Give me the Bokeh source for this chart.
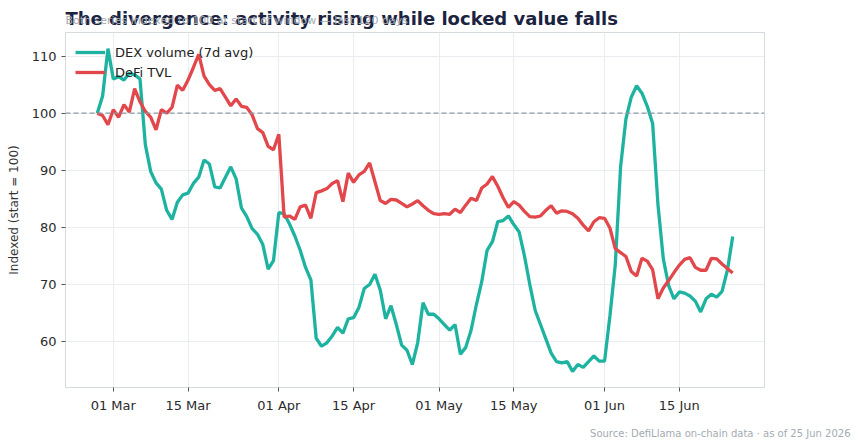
import pandas as pd
from bokeh.plotting import figure
from bokeh.models import (Range1d, FixedTicker, DatetimeTickFormatter, Span, Label,
                          Legend, LegendItem, ColumnDataSource)
from bokeh.embed import file_html
from bokeh.resources import INLINE

start_date = "2026-02-26"

dex_volume = [
    100.0, 103.0, 111.3, 106.0, 106.4, 105.8, 107.0, 106.7, 106.0, 94.5,
    89.8, 87.8, 86.7, 83.0, 81.4, 84.4, 85.7, 86.0, 87.7, 88.8,
    91.8, 91.1, 87.1, 86.9, 88.8, 90.6, 88.5, 83.4, 81.9, 79.8,
    78.8, 77.0, 72.7, 74.2, 82.6, 82.4, 80.6, 78.5, 76.0, 73.0,
    70.8, 60.6, 59.2, 59.8, 61.0, 62.5, 61.5, 64.0, 64.2, 66.0,
    69.3, 70.0, 71.8, 69.0, 64.0, 66.3, 63.0, 59.4, 58.5, 56.0,
    59.8, 66.8, 64.8, 64.8, 64.0, 63.0, 62.0, 63.0, 57.8, 59.0,
    62.0, 66.5, 70.5, 76.0, 77.5, 81.0, 81.2, 82.0, 80.5, 79.2,
    75.0, 70.0, 65.5, 63.0, 60.5, 58.0, 56.5, 56.3, 56.5, 54.8,
    56.0, 55.5, 56.5, 57.5, 56.6, 56.6, 64.5, 73.4, 90.6, 99.0,
    102.8, 104.8, 103.5, 101.2, 98.2, 84.0, 74.5, 69.8, 67.5, 68.7,
    68.5, 68.0, 67.1, 65.2, 67.5, 68.3, 67.8, 68.8, 72.5, 78.4,
]

defi_tvl = [
    100.0, 99.6, 98.0, 100.6, 99.3, 101.5, 100.2, 104.3, 102.0, 100.3,
    99.3, 97.1, 100.6, 100.0, 101.0, 104.9, 104.0, 105.8, 108.0, 110.3,
    106.5, 105.0, 104.0, 104.3, 102.8, 101.3, 102.5, 101.2, 101.0, 99.7,
    97.3, 96.6, 94.2, 93.6, 96.3, 81.8, 82.0, 81.4, 83.6, 83.9,
    81.6, 86.1, 86.4, 86.8, 87.7, 88.2, 84.5, 89.5, 87.9, 89.2,
    89.8, 91.3, 88.0, 84.7, 84.2, 84.9, 84.8, 84.2, 83.6, 84.1,
    84.7, 83.8, 83.0, 82.4, 82.3, 82.4, 82.3, 83.2, 82.6, 83.9,
    85.1, 84.7, 86.9, 87.6, 88.9, 87.2, 85.2, 83.5, 84.5, 83.9,
    82.8, 81.9, 81.8, 82.0, 83.0, 83.8, 82.5, 82.9, 82.8, 82.4,
    81.6, 80.4, 79.4, 81.0, 81.7, 81.6, 79.9, 76.3, 75.6, 74.9,
    72.3, 71.5, 74.6, 74.1, 72.6, 67.5, 69.4, 70.7, 72.1, 73.4,
    74.4, 74.7, 73.0, 72.5, 72.5, 74.6, 74.5, 73.6, 72.8, 72.0,
]

tick_dates = ["2026-03-01", "2026-03-15", "2026-04-01", "2026-04-15",
              "2026-05-01", "2026-05-15", "2026-06-01", "2026-06-15"]
y_ticks = [60, 70, 80, 90, 100, 110]
baseline_value = 100

title_text = "The divergence: activity rising while locked value falls"
subtitle_text = "Both series indexed to 100 at start of window \u2014 last 120 days"
source_text = "Source: DefiLlama on-chain data \u00b7 as of 25 Jun 2026"

TEAL = "#1db3a0"
RED = "#e2474b"
FONT = "DejaVu Sans"

W, H = 860, 446
BL, BR, BT, BB = 65, 96, 32, 59

dates = pd.date_range(start_date, periods=len(dex_volume), freq="D")
src = ColumnDataSource(dict(date=dates, dex=dex_volume, tvl=defi_tvl))

pad = (dates[-1] - dates[0]) * 0.05
x0, x1 = dates[0] - pad, dates[-1] + pad
allv = dex_volume + defi_tvl
vmin, vmax = min(allv), max(allv)
vpad = (vmax - vmin) * 0.05
y0, y1 = vmin - vpad, vmax + vpad

p = figure(width=W, height=H, x_axis_type="datetime", title=None,
           output_backend="svg", toolbar_location=None,
           min_border_left=BL, min_border_right=BR,
           min_border_top=BT, min_border_bottom=BB,
           x_range=Range1d(x0, x1), y_range=Range1d(y0, y1))

p.background_fill_color = "white"
p.border_fill_color = "white"
p.outline_line_color = "#d5dadf"
p.outline_line_width = 1

p.xgrid.grid_line_color = "#e9edf1"
p.ygrid.grid_line_color = "#e9edf1"

tick_ms = [pd.Timestamp(d).value / 1e6 for d in tick_dates]
p.xaxis.ticker = FixedTicker(ticks=tick_ms)
p.xaxis.formatter = DatetimeTickFormatter(days="%d %b", months="%d %b")
p.yaxis.ticker = FixedTicker(ticks=y_ticks)

for ax in (p.xaxis[0], p.yaxis[0]):
    ax.axis_line_color = None
    ax.major_tick_line_color = "#555555"
    ax.major_tick_in = 0
    ax.major_tick_out = 4
    ax.minor_tick_line_color = None
    ax.major_label_text_font = FONT
    ax.major_label_text_font_size = "13px"
    ax.major_label_text_color = "#2b2b2b"

p.yaxis.axis_label = "Indexed (start = 100)"
p.yaxis.axis_label_text_font = FONT
p.yaxis.axis_label_text_font_size = "12px"
p.yaxis.axis_label_text_font_style = "normal"
p.yaxis.axis_label_text_color = "#333333"
p.yaxis.axis_label_standoff = 8
p.xaxis.major_label_standoff = 6

p.add_layout(Span(location=baseline_value, dimension="width", line_color="#8e9aa6",
                  line_dash="5 3", line_width=1.2))

r1 = p.line("date", "dex", source=src, line_color=TEAL, line_width=3.3)
r2 = p.line("date", "tvl", source=src, line_color=RED, line_width=3.3)

legend = Legend(items=[LegendItem(label="DEX volume (7d avg)", renderers=[r1]),
                       LegendItem(label="DeFi TVL", renderers=[r2])],
                location="top_left")
legend.background_fill_alpha = 0
legend.border_line_alpha = 0
legend.label_text_font = FONT
legend.label_text_font_size = "13px"
legend.label_text_color = "#222222"
legend.glyph_width = 30
legend.label_standoff = 10
legend.spacing = 0
legend.margin = 6
legend.padding = 4
p.add_layout(legend)

# Text blocks live in side panels (screen units: x from panel left, y up from panel bottom).
p.add_layout(Label(x=0, y=BT - 18, x_units="screen", y_units="screen", text=title_text,
                   text_font=FONT, text_font_size="18px", text_font_style="bold",
                   text_color="#1c2340", text_baseline="alphabetic"), "above")

sub_panel_bottom = 446 - BB + 30 + 13
p.add_layout(Label(x=0, y=sub_panel_bottom - 22, x_units="screen", y_units="screen",
                   text=subtitle_text, text_font=FONT, text_font_size="11px",
                   text_color="#a3abb3", text_baseline="alphabetic"), "below")

src_panel_bottom = sub_panel_bottom + 12
p.add_layout(Label(x=850 - BL, y=src_panel_bottom - 436, x_units="screen", y_units="screen",
                   text=source_text, text_font=FONT, text_font_size="10px",
                   text_color="#a3abb3", text_align="right",
                   text_baseline="alphabetic"), "below")

open("out.html", "w").write(file_html(p, INLINE))
